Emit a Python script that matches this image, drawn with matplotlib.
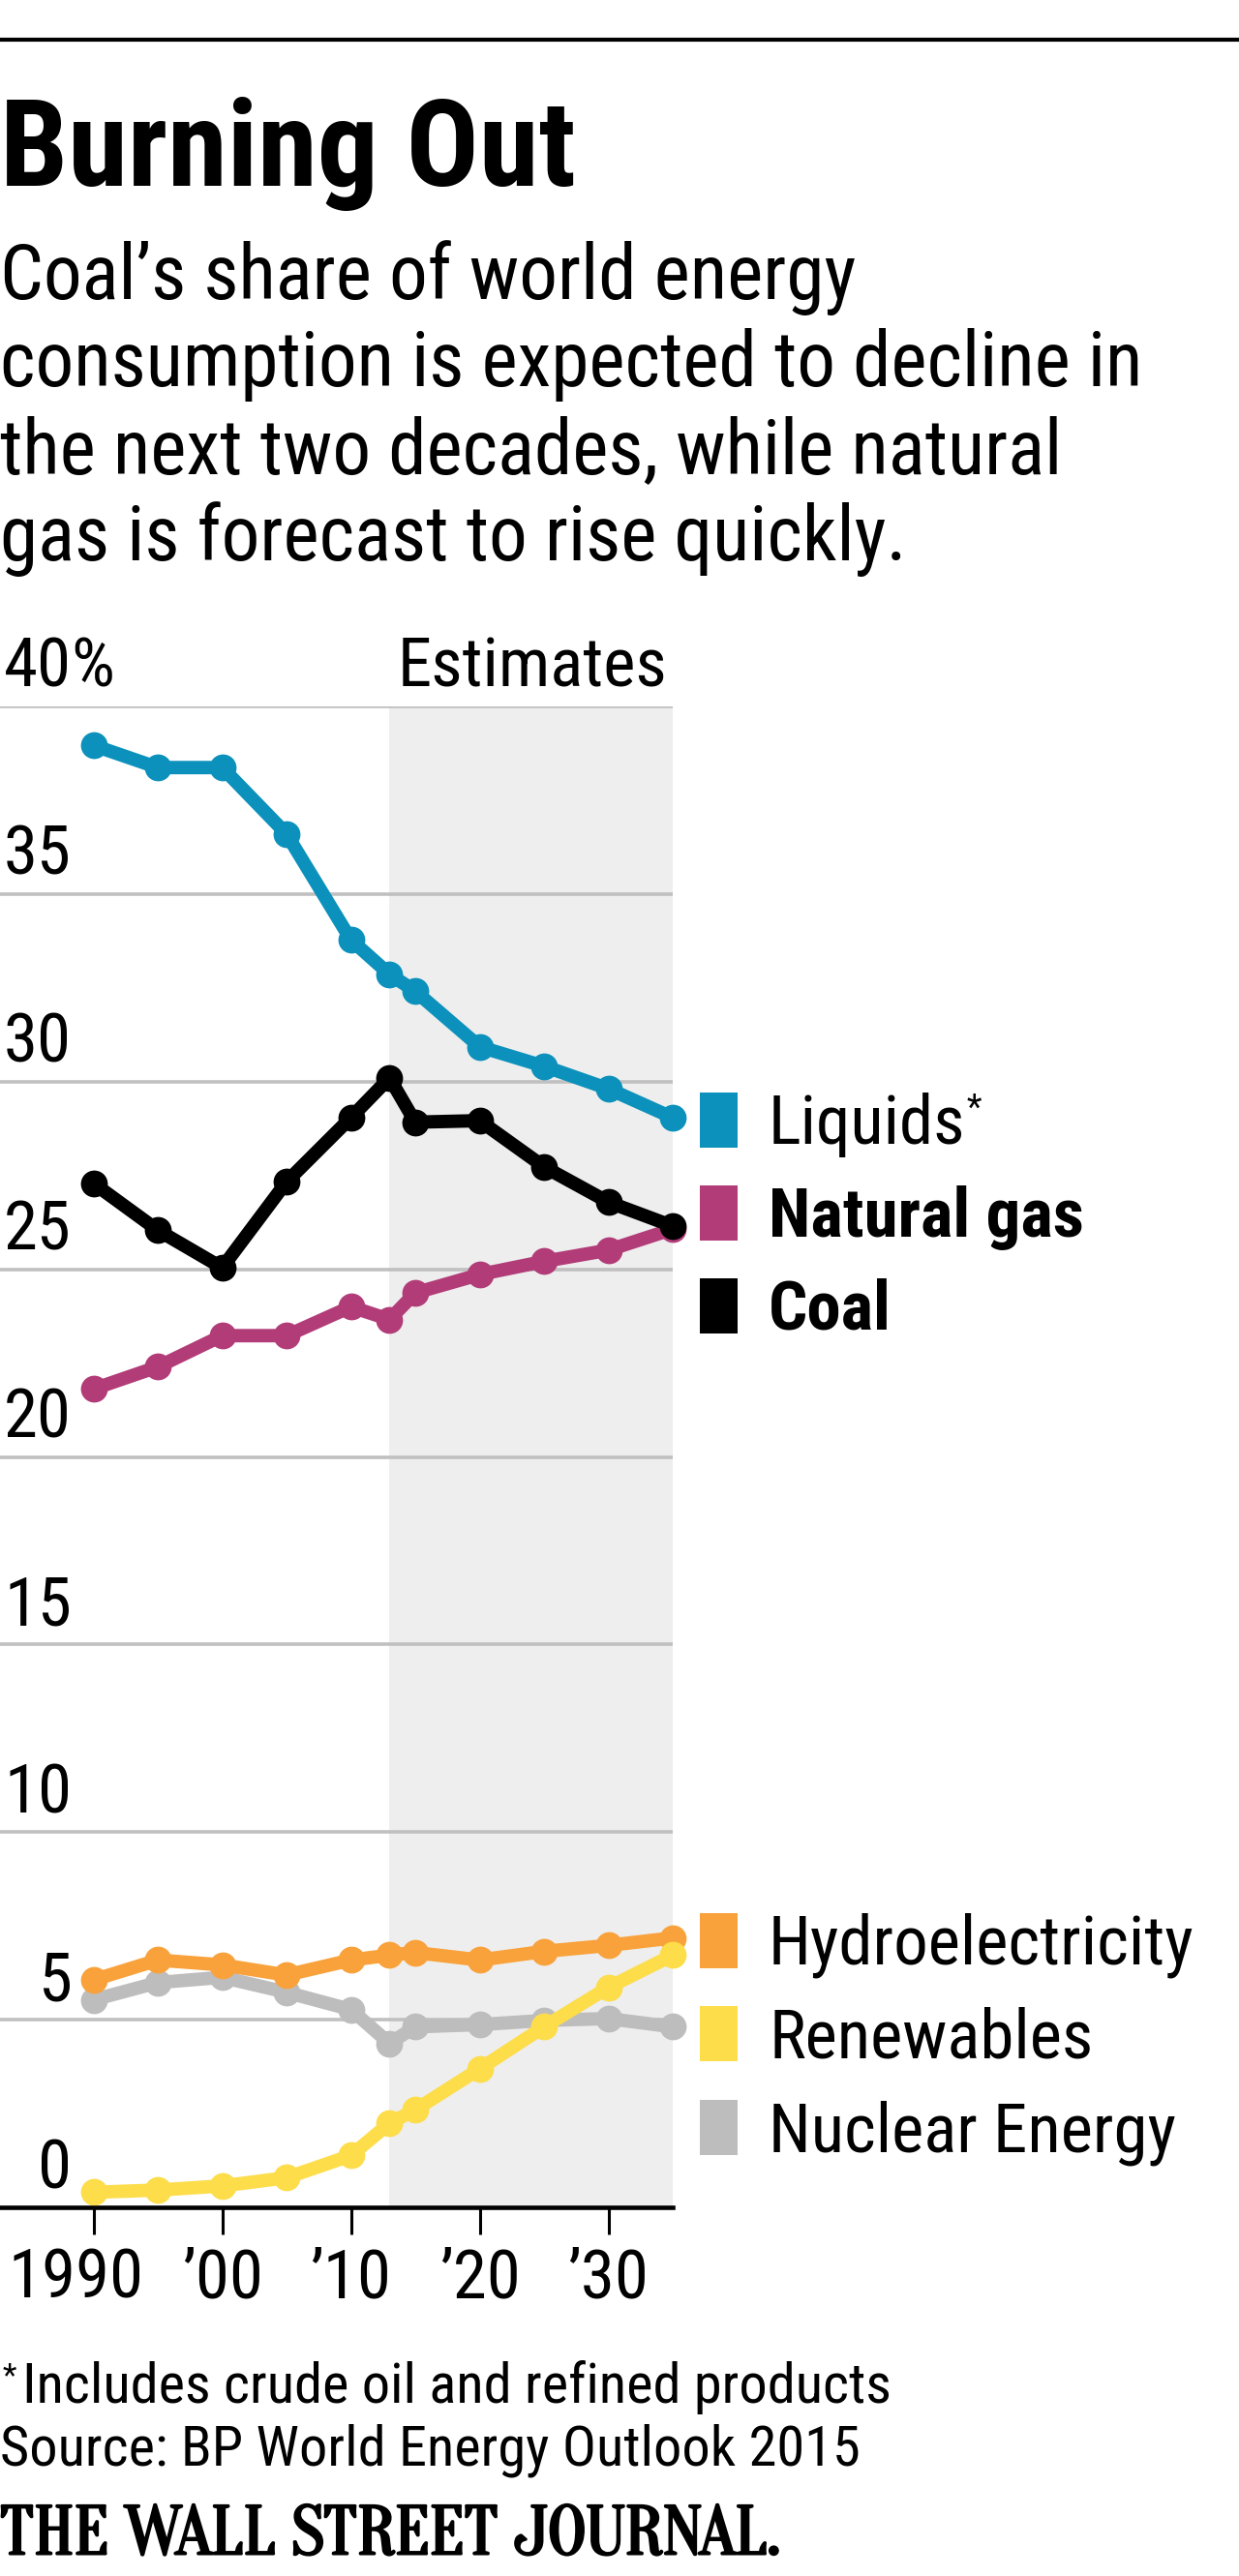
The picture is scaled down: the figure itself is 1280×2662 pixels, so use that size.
import matplotlib
matplotlib.use("Agg")
import matplotlib.pyplot as plt
import matplotlib.patheffects as pe
from matplotlib.transforms import blended_transform_factory, ScaledTranslation
from matplotlib.patches import Rectangle
from matplotlib.lines import Line2D

# ---------------- data ----------------
years = [1990, 1995, 2000, 2005, 2010, 2013, 2015, 2020, 2025, 2030, 2035]
liquids = [38.96, 38.37, 38.37, 36.6, 33.78, 32.86, 32.41, 30.93, 30.41, 29.81, 29.04]
coal = [27.29, 26.04, 25.04, 27.33, 29.04, 30.10, 28.92, 28.96, 27.73, 26.79, 26.15]
natural_gas = [21.81, 22.4, 23.23, 23.23, 24.0, 23.66, 24.37, 24.86, 25.21, 25.51, 26.07]
hydro = [6.06, 6.59, 6.46, 6.19, 6.59, 6.72, 6.79, 6.59, 6.82, 6.98, 7.18]
renewables = [0.40, 0.46, 0.57, 0.79, 1.38, 2.24, 2.60, 3.69, 4.81, 5.86, 6.72]
nuclear = [5.53, 5.99, 6.13, 5.73, 5.27, 4.37, 4.81, 4.87, 4.98, 5.03, 4.81]

estimate_start = 2013
estimate_end = 2035
y_ticks = [0, 5, 10, 15, 20, 25, 30, 35, 40]
x_ticks = [1990, 2000, 2010, 2020, 2030]
x_tick_labels = ["1990", "\u201900", "\u201910", "\u201920", "\u201930"]

top_legend = ["Liquids", "Natural gas", "Coal"]
bottom_legend = ["Hydroelectricity", "Renewables", "Nuclear Energy"]

title = "Burning Out"
subtitle = ["Coal\u2019s share of world energy",
            "consumption is expected to decline in",
            "the next two decades, while natural",
            "gas is forecast to rise quickly."]
footnote = "Includes crude oil and refined products"
source = "Source: BP World Energy Outlook 2015"
brand = "THE WALL STREET JOURNAL."

# ---------------- style ----------------
C_LIQ = "#0b91bb"
C_GAS = "#b23c78"
C_COAL = "#000000"
C_HYD = "#f9a23b"
C_REN = "#fddd4a"
C_NUC = "#bdbdbd"
C_SHADE = "#eeeeee"
C_GRID = "#c0c0c0"

FAM = ["Roboto Condensed", "DejaVu Sans"]
SERIF = ["Oranienbaum", "DejaVu Serif"]

W, H = 1280, 2662
fig = plt.figure(figsize=(W / 100, H / 100), dpi=100)
fig.patch.set_facecolor("white")


def fx(x):
    return x / W


def fy(y):
    return 1 - y / H


# top rule
fig.add_artist(Line2D([0, 1], [fy(41), fy(41)], transform=fig.transFigure,
                      color="black", lw=3.0))

# title / subtitle
fig.text(fx(0), fy(192), title, fontsize=90, weight="bold", family=FAM,
         va="baseline", ha="left")
for i, line in enumerate(subtitle):
    fig.text(fx(0), fy(309 + 90 * i), line, fontsize=57, family=FAM,
             va="baseline", ha="left")

# ---------------- axes ----------------
ax_left, ax_right = 0, 695
ax_top, ax_bottom = 730, 2281
ax = fig.add_axes([fx(ax_left), fy(ax_bottom), (ax_right - ax_left) / W,
                   (ax_bottom - ax_top) / H])
ax.set_facecolor("none")
ax.set_xlim(1982.74, 2035)
ax.set_ylim(0, 40)

ax.axvspan(estimate_start, estimate_end, color=C_SHADE, lw=0, zorder=0)
for v in y_ticks[1:]:
    ax.axhline(v, color=C_GRID, lw=2.6, zorder=1)

for s in ["top", "left", "right"]:
    ax.spines[s].set_visible(False)
ax.spines["bottom"].set_color("black")
ax.spines["bottom"].set_linewidth(3.3)
ax.spines["bottom"].set_zorder(5)

ax.set_yticks([])
ax.set_xticks(x_ticks)
ax.set_xticklabels(x_tick_labels, fontsize=51, family=FAM, va="baseline")
ax.tick_params(axis="x", length=20, width=2.2, color="black", direction="out",
               pad=47)
first = ax.get_xticklabels()[0]
first.set_transform(first.get_transform() +
                    ScaledTranslation(-18 / 100, 0, fig.dpi_scale_trans))

# y labels above gridlines
ytrans = blended_transform_factory(ax.transAxes, ax.transData) + \
    ScaledTranslation(0, 20 / 100, fig.dpi_scale_trans)
for v in y_ticks:
    ax.text(74 / 695, v, str(v), transform=ytrans, ha="right", va="baseline",
            fontsize=51, family=FAM, clip_on=False)
ax.text(73 / 695, y_ticks[-1], "%", transform=ytrans, ha="left",
        va="baseline", fontsize=51, family=FAM, clip_on=False)
ax.text(689 / 695, y_ticks[-1], "Estimates", transform=ytrans, ha="right",
        va="baseline", fontsize=51, family=FAM, clip_on=False)

# series
series = [(nuclear, C_NUC), (hydro, C_HYD), (renewables, C_REN),
          (natural_gas, C_GAS), (liquids, C_LIQ), (coal, C_COAL)]
for z, (vals, col) in enumerate(series):
    ax.plot(years, vals, color=col, lw=10, marker="o", ms=20,
            markeredgewidth=0, solid_joinstyle="round",
            solid_capstyle="round", clip_on=False, zorder=3 + z * 0.1)

# ---------------- legend labels ----------------
def legend_row(yc, color, label, bold=False):
    fig.add_artist(Rectangle((fx(723), fy(yc + 28.5)), 39 / W, 57 / H,
                             transform=fig.transFigure, color=color, lw=0))
    return fig.text(fx(794), fy(yc + 25), label, fontsize=51, family=FAM,
                    weight="bold" if bold else "normal", va="baseline",
                    ha="left")


top_colors = [C_LIQ, C_GAS, C_COAL]
top_bold = [False, True, True]
texts = []
for i, (lab, col, b) in enumerate(zip(top_legend, top_colors, top_bold)):
    texts.append(legend_row(1157 + 96 * i, col, lab, b))
bottom_colors = [C_HYD, C_REN, C_NUC]
for i, (lab, col) in enumerate(zip(bottom_legend, bottom_colors)):
    legend_row(2005 + 96.5 * i, col, lab)

# asterisk after Liquids
renderer = fig.canvas.get_renderer()
bb = texts[0].get_window_extent(renderer)
fig.text(bb.x1 / W + fx(1), fy(1128), "*", fontsize=26, family=FAM,
         va="top", ha="left")

# ---------------- footer ----------------
fig.text(fx(3), fy(2440), "*", fontsize=24, family=FAM, va="top", ha="left")
fig.text(fx(23), fy(2483), footnote, fontsize=42, family=FAM, va="baseline",
         ha="left")
fig.text(fx(0), fy(2548), source, fontsize=42, family=FAM, va="baseline",
         ha="left")
fig.text(fx(0), fy(2639), brand, fontsize=51, family=SERIF,
         va="baseline", ha="left",
         path_effects=[pe.withStroke(linewidth=2.2, foreground="black")])

fig.savefig("out.png", dpi=100, facecolor="white")
